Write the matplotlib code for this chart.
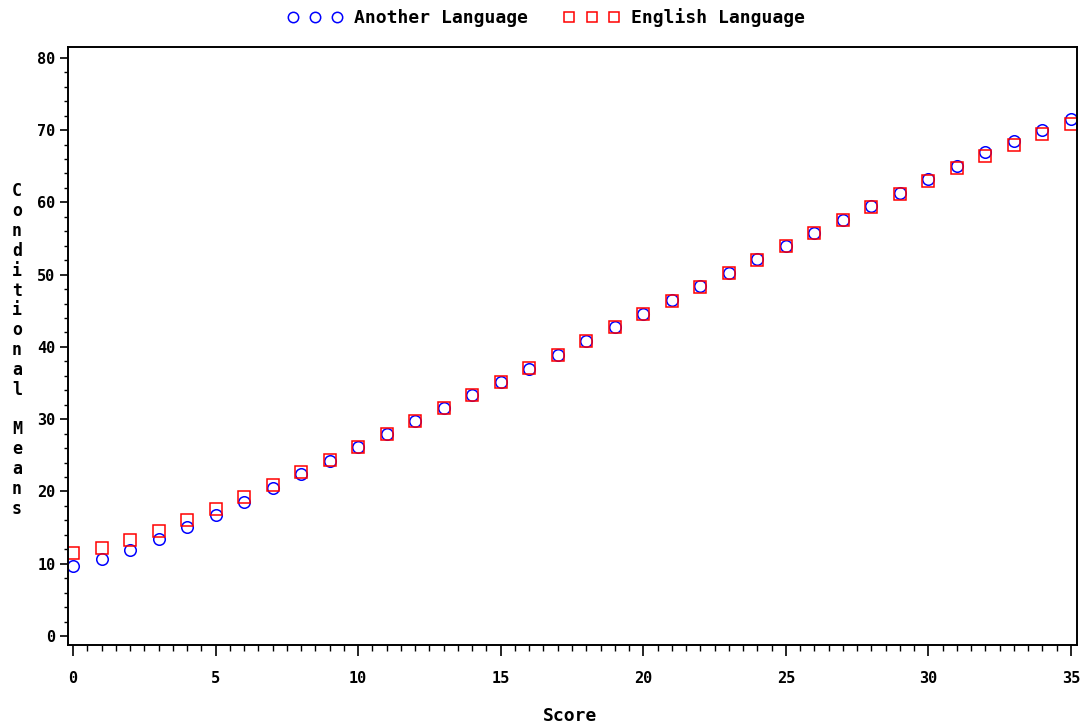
import matplotlib
matplotlib.use("Agg")
import matplotlib.pyplot as plt
from matplotlib.ticker import MultipleLocator

scores = list(range(0, 36))
another = [9.7, 10.7, 11.9, 13.4, 15.1, 16.7, 18.6, 20.5, 22.4, 24.2,
           26.1, 27.9, 29.7, 31.6, 33.4, 35.2, 37.0, 38.9, 40.8, 42.7,
           44.6, 46.5, 48.4, 50.2, 52.1, 53.9, 55.8, 57.6, 59.5, 61.3,
           63.3, 65.0, 67.0, 68.5, 70.0, 71.6]
english = [11.5, 12.2, 13.3, 14.5, 16.1, 17.6, 19.2, 20.9, 22.7, 24.3,
           26.1, 27.9, 29.7, 31.6, 33.4, 35.2, 37.1, 38.9, 40.8, 42.7,
           44.5, 46.4, 48.3, 50.2, 52.0, 53.9, 55.7, 57.5, 59.3, 61.1,
           62.9, 64.7, 66.4, 68.0, 69.5, 70.9]
series_names = ["Another Language", "English Language"]
y_label = "Conditional Means"
x_label = "Score"

font = {"family": "DejaVu Sans Mono", "weight": "bold"}

fig = plt.figure(figsize=(10.85, 7.26), dpi=100)
ax = fig.add_axes([68 / 1085, 1 - 645 / 726, (1077 - 68) / 1085, (645 - 47) / 726])

ax.plot(scores, another, linestyle="none", marker="o", markersize=8.3,
        markerfacecolor="none", markeredgecolor="#0000ff", markeredgewidth=1.1,
        label=series_names[0])
ax.plot(scores, english, linestyle="none", marker="s", markersize=8.3,
        markerfacecolor="none", markeredgecolor="#ff0000", markeredgewidth=1.1,
        label=series_names[1])

ax.set_xlim(-0.175, 35.21)
ax.set_ylim(-1.25, 81.5)
ax.xaxis.set_major_locator(MultipleLocator(5))
ax.xaxis.set_minor_locator(MultipleLocator(0.5))
ax.yaxis.set_major_locator(MultipleLocator(10))
ax.yaxis.set_minor_locator(MultipleLocator(2))

for sp in ax.spines.values():
    sp.set_linewidth(1.4)
    sp.set_color("black")

ax.tick_params(axis="x", which="major", length=8, width=1.2, pad=11, direction="out")
ax.tick_params(axis="x", which="minor", length=4, width=1.0, direction="out")
ax.tick_params(axis="y", which="major", length=6, width=1.2, pad=3, direction="out")
ax.tick_params(axis="y", which="minor", length=3, width=1.0, direction="out")
for lab in ax.get_xticklabels() + ax.get_yticklabels():
    lab.set_fontfamily(font["family"])
    lab.set_fontweight("bold")
    lab.set_fontsize(11)

fig.text(570 / 1085, 1 - 716 / 726, x_label, ha="center", va="center",
         fontsize=13, **font)
vert = "\n".join(ch if ch != " " else "" for ch in y_label)
fig.text(17 / 1085, 1 - 350 / 726, vert, ha="center", va="center",
         fontsize=12, linespacing=1.13, **font)

leg = fig.legend(loc="center", bbox_to_anchor=(546 / 1085, 1 - 18 / 726), ncol=2,
                 numpoints=3, frameon=False, handlelength=3.05, handletextpad=0.65,
                 columnspacing=2.0, markerscale=0.9,
                 prop={"family": "DejaVu Sans Mono", "weight": "bold", "size": 13})

fig.savefig("out.png", dpi=100, facecolor="white")
